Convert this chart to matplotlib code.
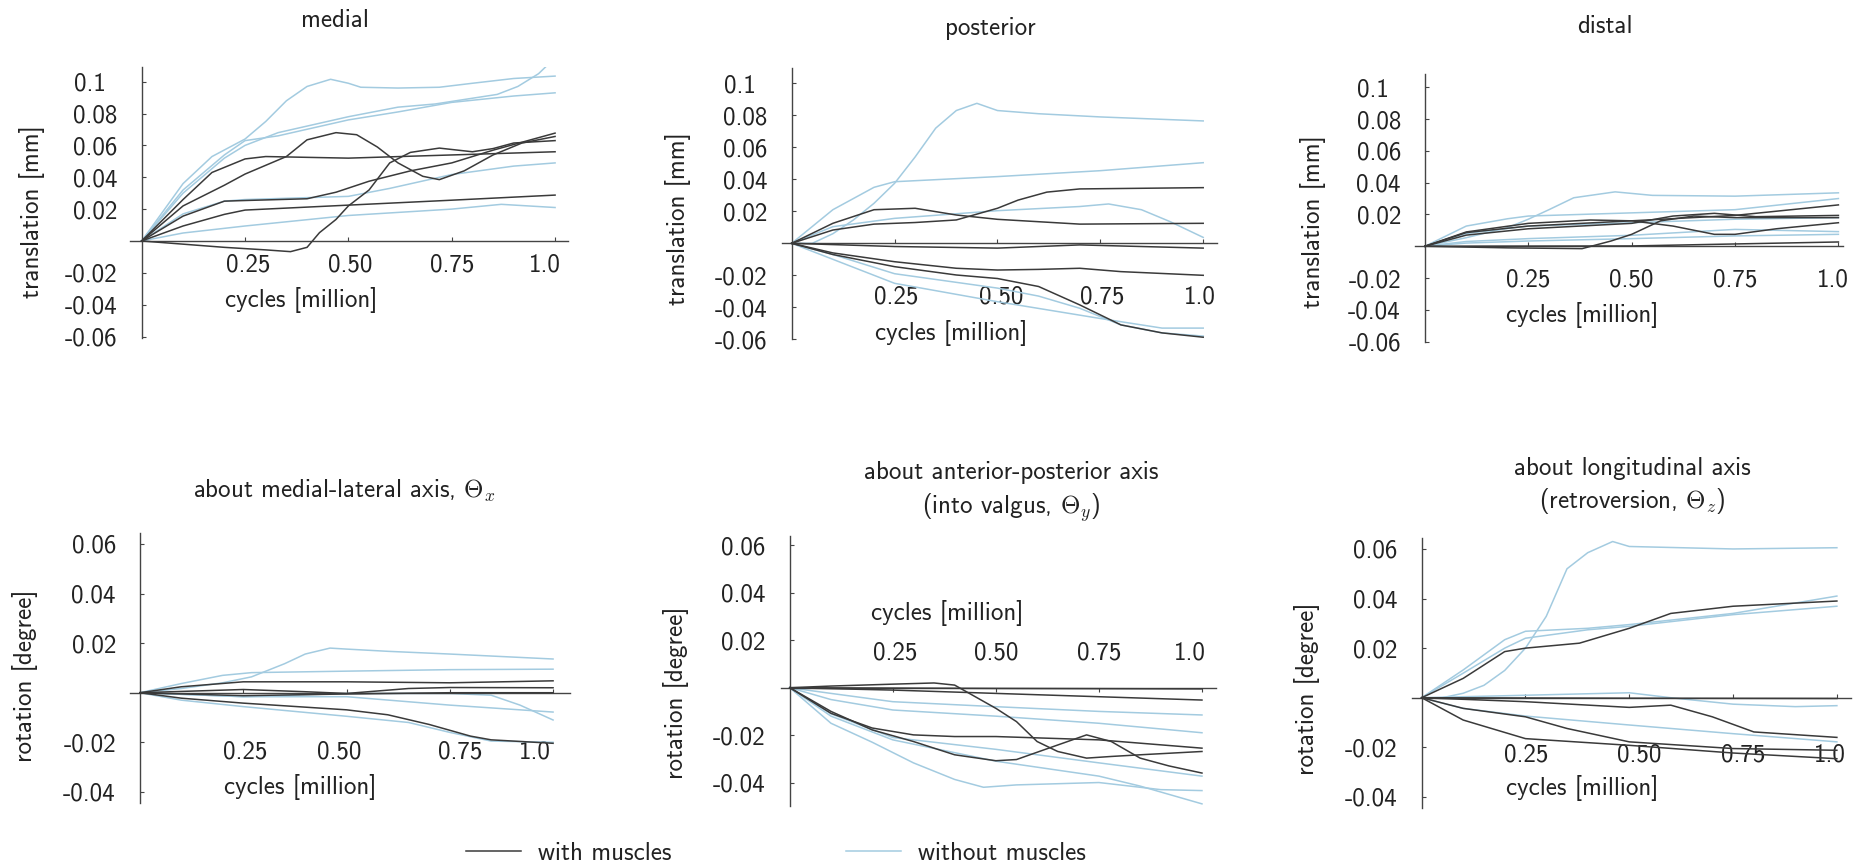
import matplotlib
matplotlib.use('Agg')
import matplotlib.pyplot as plt
from matplotlib.lines import Line2D
from matplotlib.transforms import ScaledTranslation

plt.rcParams['font.family'] = ['cmss10', 'DejaVu Sans']
plt.rcParams['mathtext.fontset'] = 'cm'
plt.rcParams['axes.unicode_minus'] = False

DARK = '#3a3a3a'
LIGHT = '#a3cbe0'
FS = 18

# curves: (cycles [million], value)
medial_with = [
    [(0, 0), (0.1, 0.026), (0.17, 0.043), (0.25, 0.0515), (0.3, 0.053), (0.5, 0.052), (0.75, 0.054), (1.0, 0.056)],
    [(0, 0), (0.1, 0.022), (0.2, 0.035), (0.25, 0.042), (0.35, 0.053), (0.4, 0.0635), (0.47, 0.068), (0.52, 0.0667),
     (0.57, 0.059), (0.62, 0.049), (0.68, 0.0406), (0.72, 0.0385), (0.78, 0.044), (0.85, 0.054), (0.92, 0.0615), (1.0, 0.0656)],
    [(0, 0), (0.1, 0.0156), (0.2, 0.025), (0.25, 0.0254), (0.4, 0.0265), (0.47, 0.0306), (0.55, 0.0375), (0.65, 0.044),
     (0.75, 0.049), (0.85, 0.057), (1.0, 0.0677)],
    [(0, 0), (0.1, 0.0094), (0.2, 0.0167), (0.25, 0.0194), (0.5, 0.0225), (0.75, 0.0256), (1.0, 0.0288)],
    [(0, 0), (0.1, -0.002), (0.2, -0.004), (0.3, -0.0056), (0.36, -0.0067), (0.4, -0.004), (0.43, 0.0052), (0.47, 0.0135),
     (0.5, 0.022), (0.55, 0.032), (0.6, 0.049), (0.65, 0.0556), (0.72, 0.0583), (0.8, 0.056), (0.85, 0.058), (0.9, 0.0615), (1.0, 0.063)],
]
medial_without = [
    [(0, 0), (0.1, 0.036), (0.17, 0.053), (0.25, 0.064), (0.3, 0.075), (0.35, 0.088), (0.4, 0.097), (0.457, 0.1015),
     (0.5, 0.099), (0.53, 0.0965), (0.62, 0.096), (0.72, 0.0965), (0.8, 0.099), (0.9, 0.102), (1.0, 0.1035)],
    [(0, 0), (0.1, 0.03), (0.2, 0.052), (0.25, 0.06), (0.33, 0.068), (0.5, 0.078), (0.62, 0.084), (0.71, 0.086),
     (0.8, 0.0896), (0.86, 0.092), (0.91, 0.097), (0.96, 0.105), (1.0, 0.115)],
    [(0, 0), (0.1, 0.032), (0.2, 0.054), (0.25, 0.063), (0.33, 0.066), (0.5, 0.076), (0.62, 0.081), (0.75, 0.087),
     (0.9, 0.091), (1.0, 0.093)],
    [(0, 0), (0.1, 0.017), (0.2, 0.025), (0.25, 0.026), (0.5, 0.028), (0.6, 0.033), (0.75, 0.0417), (0.9, 0.047), (1.0, 0.049)],
    [(0, 0), (0.1, 0.005), (0.25, 0.0094), (0.5, 0.016), (0.75, 0.020), (0.87, 0.023), (1.0, 0.021)],
]

posterior_with = [
    [(0, 0), (0.1, 0.0083), (0.2, 0.012), (0.3, 0.013), (0.4, 0.0146), (0.5, 0.0219), (0.55, 0.027), (0.62, 0.032),
     (0.7, 0.034), (1.0, 0.0348)],
    [(0, 0), (0.1, 0.0125), (0.2, 0.021), (0.3, 0.0219), (0.4, 0.0177), (0.5, 0.015), (0.7, 0.012), (1.0, 0.0125)],
    [(0, 0), (0.25, -0.002), (0.5, -0.003), (0.7, -0.001), (1.0, -0.003)],
    [(0, 0), (0.1, -0.006), (0.25, -0.0115), (0.4, -0.0156), (0.5, -0.0167), (0.6, -0.0163), (0.7, -0.0156),
     (0.8, -0.0177), (1.0, -0.020)],
    [(0, 0), (0.1, -0.007), (0.25, -0.0146), (0.4, -0.0198), (0.5, -0.022), (0.6, -0.027), (0.7, -0.0385),
     (0.8, -0.051), (0.9, -0.056), (1.0, -0.0587)],
]
posterior_without = [
    [(0, 0), (0.05, 0.0), (0.1, 0.006), (0.15, 0.0146), (0.2, 0.025), (0.25, 0.0375), (0.3, 0.054), (0.35, 0.072),
     (0.4, 0.083), (0.45, 0.0875), (0.5, 0.083), (0.6, 0.081), (0.75, 0.079), (1.0, 0.0765)],
    [(0, 0), (0.1, 0.021), (0.2, 0.035), (0.25, 0.0385), (0.5, 0.0417), (0.75, 0.0454), (1.0, 0.0504)],
    [(0, 0), (0.1, 0.0104), (0.25, 0.0156), (0.5, 0.0204), (0.7, 0.023), (0.77, 0.0246), (0.85, 0.021),
     (0.92, 0.0135), (1.0, 0.0037)],
    [(0, 0), (0.1, -0.01), (0.25, -0.025), (0.5, -0.0365), (0.75, -0.047), (0.9, -0.053), (1.0, -0.053)],
    [(0, 0), (0.1, -0.007), (0.25, -0.019), (0.5, -0.028), (0.6, -0.033), (0.7, -0.0406), (0.8, -0.051),
     (0.9, -0.056), (1.0, -0.058)],
]

distal_with = [
    [(0, 0), (0.1, 0.0086), (0.25, 0.0127), (0.5, 0.016), (0.75, 0.0194), (1.0, 0.026)],
    [(0, 0), (0.1, 0.007), (0.25, 0.011), (0.5, 0.0144), (0.6, 0.019), (0.7, 0.0207), (0.8, 0.0186), (1.0, 0.0194)],
    [(0, 0), (0.1, 0.009), (0.25, 0.0144), (0.4, 0.0165), (0.5, 0.016), (0.6, 0.0127), (0.7, 0.0075), (0.75, 0.0075),
     (0.85, 0.011), (1.0, 0.0148)],
    [(0, 0), (0.2, -0.001), (0.38, -0.0015), (0.45, 0.0033), (0.5, 0.0075), (0.57, 0.016), (0.65, 0.019),
     (0.75, 0.018), (1.0, 0.018)],
    [(0, 0), (0.5, 0.0002), (1.0, 0.0027)],
]
distal_without = [
    [(0, 0), (0.1, 0.0054), (0.2, 0.0117), (0.25, 0.017), (0.3, 0.023), (0.36, 0.0305), (0.46, 0.0342), (0.55, 0.032),
     (0.75, 0.0315), (1.0, 0.0336)],
    [(0, 0), (0.1, 0.0127), (0.2, 0.0173), (0.25, 0.019), (0.5, 0.021), (0.75, 0.023), (1.0, 0.030)],
    [(0, 0), (0.1, 0.008), (0.25, 0.0127), (0.5, 0.0148), (0.75, 0.017), (1.0, 0.018)],
    [(0, 0), (0.1, 0.003), (0.25, 0.0048), (0.5, 0.0069), (0.75, 0.0106), (1.0, 0.0092)],
    [(0, 0), (0.1, 0.002), (0.25, 0.0033), (0.5, 0.0048), (0.75, 0.0065), (1.0, 0.0075)],
]

theta_x_with = [
    [(0, 0), (0.1, 0.0024), (0.25, 0.0044), (0.5, 0.0044), (0.75, 0.004), (1.0, 0.0048)],
    [(0, 0), (0.25, 0.0013), (0.4, 0.0004), (0.5, -0.0003), (0.65, 0.0017), (0.75, 0.0021), (1.0, 0.002)],
    [(0, 0), (0.25, -0.0012), (0.5, -0.0005), (0.75, 0.0), (1.0, 0.0)],
    [(0, 0), (0.1, -0.0022), (0.25, -0.0042), (0.5, -0.0069), (0.6, -0.0089), (0.7, -0.0128), (0.8, -0.0175),
     (0.85, -0.019), (1.0, -0.0204)],
]
theta_x_without = [
    [(0, 0), (0.1, 0.0017), (0.2, 0.004), (0.27, 0.0064), (0.35, 0.0117), (0.4, 0.0156), (0.46, 0.018), (0.5, 0.0176),
     (0.6, 0.0167), (0.75, 0.0156), (1.0, 0.0136)],
    [(0, 0), (0.1, 0.0037), (0.2, 0.007), (0.27, 0.0081), (0.5, 0.0087), (0.75, 0.0093), (1.0, 0.0095)],
    [(0, 0), (0.25, -0.0016), (0.5, -0.0003), (0.75, -0.0003), (0.85, -0.001), (0.92, -0.005), (1.0, -0.011)],
    [(0, 0), (0.25, -0.0016), (0.5, -0.0016), (0.75, -0.005), (1.0, -0.0078)],
    [(0, 0), (0.1, -0.003), (0.25, -0.0056), (0.5, -0.0095), (0.65, -0.012), (0.75, -0.016), (0.85, -0.0195), (1.0, -0.020)],
]

theta_y_with = [
    [(0, 0), (0.1, 0.0007), (0.25, 0.0015), (0.35, 0.002), (0.4, 0.0011), (0.45, -0.0038), (0.5, -0.0087),
     (0.55, -0.0143), (0.6, -0.0227), (0.65, -0.0269), (0.72, -0.0297), (0.78, -0.029), (0.85, -0.0283), (1.0, -0.0269)],
    [(0, 0), (0.25, -0.001), (0.5, -0.0024), (0.75, -0.0038), (1.0, -0.0052)],
    [(0, 0), (0.1, -0.0108), (0.2, -0.017), (0.3, -0.0199), (0.4, -0.0206), (0.5, -0.0206), (0.75, -0.022), (1.0, -0.0255)],
    [(0, 0), (0.1, -0.010), (0.2, -0.0178), (0.3, -0.0227), (0.4, -0.0283), (0.5, -0.0308), (0.55, -0.0303),
     (0.62, -0.026), (0.72, -0.0199), (0.78, -0.0227), (0.85, -0.0297), (0.92, -0.033), (1.0, -0.036)],
    [(0, 0), (0.5, -0.0003), (1.0, -0.0005)],
]
theta_y_without = [
    [(0, 0), (0.1, -0.0024), (0.25, -0.0059), (0.5, -0.008), (0.75, -0.010), (1.0, -0.0115)],
    [(0, 0), (0.1, -0.005), (0.25, -0.0094), (0.5, -0.012), (0.75, -0.015), (1.0, -0.019)],
    [(0, 0), (0.1, -0.011), (0.25, -0.021), (0.5, -0.026), (0.75, -0.0317), (1.0, -0.0373)],
    [(0, 0), (0.1, -0.015), (0.2, -0.023), (0.3, -0.0317), (0.4, -0.0387), (0.47, -0.042), (0.55, -0.041),
     (0.75, -0.040), (0.9, -0.043), (1.0, -0.0434)],
    [(0, 0), (0.1, -0.012), (0.25, -0.022), (0.5, -0.031), (0.75, -0.0373), (0.85, -0.0415), (1.0, -0.049)],
]

theta_z_with = [
    [(0, 0), (0.1, 0.0078), (0.2, 0.0186), (0.25, 0.020), (0.38, 0.022), (0.5, 0.028), (0.6, 0.034), (0.75, 0.0369), (1.0, 0.039)],
    [(0, 0), (0.5, -0.0002), (1.0, -0.0003)],
    [(0, 0), (0.25, -0.0016), (0.5, -0.0039), (0.6, -0.003), (0.7, -0.0077), (0.8, -0.0138), (1.0, -0.016)],
    [(0, 0), (0.1, -0.0043), (0.25, -0.0077), (0.35, -0.0124), (0.5, -0.0178), (0.75, -0.0205), (1.0, -0.0212)],
    [(0, 0), (0.1, -0.009), (0.25, -0.0165), (0.5, -0.0192), (0.75, -0.0223), (1.0, -0.0246)],
]
theta_z_without = [
    [(0, 0), (0.05, 0.0), (0.1, 0.0018), (0.15, 0.005), (0.2, 0.011), (0.25, 0.020), (0.3, 0.0328), (0.35, 0.052),
     (0.4, 0.0585), (0.46, 0.063), (0.5, 0.061), (0.75, 0.060), (1.0, 0.0605)],
    [(0, 0), (0.1, 0.0112), (0.2, 0.0234), (0.25, 0.0268), (0.4, 0.028), (0.5, 0.0295), (0.75, 0.034), (1.0, 0.041)],
    [(0, 0), (0.1, 0.0099), (0.2, 0.020), (0.25, 0.024), (0.4, 0.0274), (0.5, 0.0288), (0.75, 0.0335), (1.0, 0.0369)],
    [(0, 0), (0.25, 0.001), (0.5, 0.002), (0.6, 0.0), (0.75, -0.0026), (0.9, -0.0036), (1.0, -0.0032)],
    [(0, 0), (0.1, -0.0043), (0.25, -0.0074), (0.5, -0.011), (0.75, -0.0145), (1.0, -0.0178)],
]

x_ticks = [0.25, 0.5, 0.75, 1.0]
x_ticklabels = ['0.25', '0.50', '0.75', '1.0']
trans_ticks = [-0.06, -0.04, -0.02, 0.02, 0.04, 0.06, 0.08, 0.1]
trans_ticklabels = ['-0.06', '-0.04', '-0.02', '0.02', '0.04', '0.06', '0.08', '0.1']
rot_ticks = [-0.04, -0.02, 0.02, 0.04, 0.06]
rot_ticklabels = ['-0.04', '-0.02', '0.02', '0.04', '0.06']

W, H = 1861, 868
fig = plt.figure(figsize=(W / 100, H / 100), dpi=100)

# layout in pixels: axes box (left, top, right, bottom), limits, title / label centres,
# x tick label distance from the axis line (negative = above) and small x shifts per label
panels = [
    dict(box=(130, 66.7, 568.3, 338.3), xlim=(-0.0283, 1.032), ylim=(-0.0611, 0.1094),
         data=(medial_with, medial_without), title='medial', title_xy=(335, 20.7),
         xlab_xy=(301.6, 300), ylab_xy=(31.7, 211.7), tick_off=22.3, shifts=(3, 1.7, 0, -10),
         ylabel='translation [mm]'),
    dict(box=(781.7, 68.3, 1217.2, 339.3), xlim=(-0.0243, 1.034), ylim=(-0.06, 0.1094),
         data=(posterior_with, posterior_without), title='posterior', title_xy=(990, 28.3),
         xlab_xy=(951.5, 333.3), ylab_xy=(678.3, 219), tick_off=51.7, shifts=(2, 4, 2, -3),
         ylabel='translation [mm]'),
    dict(box=(1414.6, 74, 1843.2, 341.7), xlim=(-0.025, 1.0116), ylim=(-0.0593, 0.1083),
         data=(distal_with, distal_without), title='distal', title_xy=(1605, 26.7),
         xlab_xy=(1582, 315), ylab_xy=(1313.4, 221.7), tick_off=31.3, shifts=(0, 0, 0, -6),
         ylabel='translation [mm]'),
    dict(box=(130, 533.3, 570, 803.3), xlim=(-0.0242, 1.041), ylim=(-0.0446, 0.0643),
         data=(theta_x_with, theta_x_without), title='about medial-lateral axis, $\\Theta_x$', title_xy=(344, 491),
         xlab_xy=(300.6, 786.7), ylab_xy=(25, 675.8), tick_off=56.6, shifts=(2, -7.5, 10, -18),
         ylabel='rotation [degree]'),
    dict(box=(780.7, 536, 1216.4, 806), xlim=(-0.022, 1.035), ylim=(-0.0499, 0.064),
         data=(theta_y_with, theta_y_without), title='about anterior-posterior axis\n(into valgus, $\\Theta_y$)',
         title_xy=(1011, 492.5), xlab_xy=(947.4, 613.3), ylab_xy=(675.6, 693), tick_off=-36,
         shifts=(2, 0, 0, -12), ylabel='rotation [degree]'),
    dict(box=(1411.7, 538.3, 1851, 808.3), xlim=(-0.024, 1.034), ylim=(-0.0446, 0.0643),
         data=(theta_z_with, theta_z_without), title='about longitudinal axis\n(retroversion, $\\Theta_z$)',
         title_xy=(1632, 486.7), xlab_xy=(1582, 788.3), ylab_xy=(1306.7, 689.2), tick_off=55,
         shifts=(1, 10, 10, -7), ylabel='rotation [degree]'),
]

for i, p in enumerate(panels):
    l, t, r, b = p['box']
    ax = fig.add_axes([l / W, 1 - b / H, (r - l) / W, (b - t) / H])
    fx = lambda px: (px - l) / (r - l)
    fy = lambda py: (b - py) / (b - t)

    with_lines, without_lines = p['data']
    for line in without_lines:
        xs, ys = zip(*line)
        ax.plot(xs, ys, color=LIGHT, lw=1.1, zorder=2)
    for line in with_lines:
        xs, ys = zip(*line)
        ax.plot(xs, ys, color=DARK, lw=1.1, zorder=3)

    ax.set_xlim(*p['xlim'])
    ax.set_ylim(*p['ylim'])

    top = p['tick_off'] < 0
    side = 'top' if top else 'bottom'
    for s in ['right', 'top', 'bottom']:
        ax.spines[s].set_visible(False)
    ax.spines[side].set_visible(True)
    ax.spines[side].set_position(('data', 0))
    ax.spines['left'].set_position(('data', 0))
    for s in ['left', side]:
        ax.spines[s].set_color('#444444')
        ax.spines[s].set_linewidth(1.0)

    ax.xaxis.set_ticks_position(side)
    ax.yaxis.set_ticks_position('left')
    ax.tick_params(axis='both', direction='in', length=3, width=0.8, color='#444444',
                   labelsize=FS, labelcolor='#222222')
    em = FS / 72 * 100
    if top:
        xpad = abs(p['tick_off']) - 0.516 * em
    else:
        xpad = p['tick_off'] - 0.372 * em
    ax.tick_params(axis='x', pad=xpad * 0.72)
    ax.tick_params(axis='y', pad=24 * 0.72)

    ax.set_xticks(x_ticks, x_ticklabels)
    if i < 3:
        ax.set_yticks(trans_ticks, trans_ticklabels)
    else:
        ax.set_yticks(rot_ticks, rot_ticklabels)

    for lbl, dx in zip(ax.get_xticklabels(), p['shifts']):
        lbl.set_transform(lbl.get_transform() + ScaledTranslation(dx / 100, 0, fig.dpi_scale_trans))
    for lbl in ax.get_yticklabels():
        if lbl.get_text() == '0.1':
            lbl.set_transform(lbl.get_transform() + ScaledTranslation(-12 / 100, 0, fig.dpi_scale_trans))

    ax.set_xlabel('cycles [million]', fontsize=FS, color='#222222')
    if top:
        ax.xaxis.set_label_position('top')
    ax.xaxis.set_label_coords(fx(p['xlab_xy'][0]), fy(p['xlab_xy'][1]))
    ax.xaxis.label.set_verticalalignment('center')

    ax.set_ylabel(p['ylabel'], fontsize=FS, color='#222222')
    ax.yaxis.set_label_coords(fx(p['ylab_xy'][0]), fy(p['ylab_xy'][1]))
    ax.yaxis.label.set_verticalalignment('center')

    ax.set_title(p['title'], x=fx(p['title_xy'][0]), y=fy(p['title_xy'][1]), pad=0, va='center',
                 fontsize=FS, color='#222222', linespacing=1.3)
    ax.patch.set_visible(False)

handles = [Line2D([], [], color=DARK, lw=1.1), Line2D([], [], color=LIGHT, lw=1.1)]
fig.legend(handles, ['with muscles', 'without muscles'], loc='center', bbox_to_anchor=(776 / W, 1 - 853 / H),
           ncol=2, frameon=False, fontsize=FS, handlelength=2.19, handletextpad=0.69, columnspacing=7.0,
           labelcolor='#222222')

fig.savefig('out.png', dpi=100, facecolor='white')
